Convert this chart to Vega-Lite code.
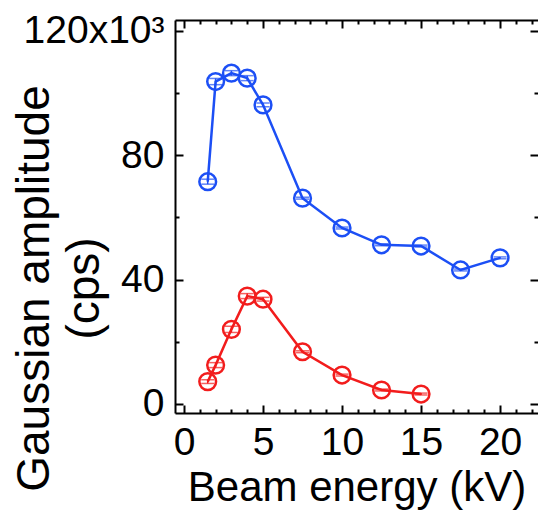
{
  "$schema": "https://vega.github.io/schema/vega-lite/v6.json",
  "autosize": "none",
  "padding": {"left": 175, "top": 20, "right": 0, "bottom": 105},
  "width": 363,
  "height": 393,
  "config": {
    "view": {"stroke": null},
    "font": "Liberation Sans",
    "axis": {
      "domainColor": "black", "domainWidth": 2, "tickColor": "black", "tickWidth": 2,
      "labelFont": "Liberation Sans", "titleFont": "Liberation Sans",
      "labelFontSize": 39, "titleFontSize": 42, "labelColor": "black", "titleColor": "black",
      "titleFontWeight": "normal", "grid": false
    }
  },
  "datasets": {
    "pts": [
      {"s": "blue", "e": 1.5, "a": 71.5, "err": 0.8},
      {"s": "blue", "e": 2, "a": 103.7, "err": 1.0},
      {"s": "blue", "e": 3, "a": 106.4, "err": 0.8},
      {"s": "blue", "e": 4, "a": 104.8, "err": 0.8},
      {"s": "blue", "e": 5, "a": 96.2, "err": 0.6},
      {"s": "blue", "e": 7.5, "a": 66.2, "err": 0.3},
      {"s": "blue", "e": 10, "a": 56.6, "err": 0.3},
      {"s": "blue", "e": 12.5, "a": 51.2, "err": 0.3},
      {"s": "blue", "e": 15, "a": 50.8, "err": 0.3},
      {"s": "blue", "e": 17.5, "a": 43.1, "err": 0.3},
      {"s": "blue", "e": 20, "a": 47.0, "err": 0.3},
      {"s": "red", "e": 1.5, "a": 7.2, "err": 0.6},
      {"s": "red", "e": 2, "a": 12.5, "err": 0.8},
      {"s": "red", "e": 3, "a": 24.0, "err": 1.0},
      {"s": "red", "e": 4, "a": 34.7, "err": 0.8},
      {"s": "red", "e": 5, "a": 33.7, "err": 0.6},
      {"s": "red", "e": 7.5, "a": 16.8, "err": 0.3},
      {"s": "red", "e": 10, "a": 9.3, "err": 0.3},
      {"s": "red", "e": 12.5, "a": 4.5, "err": 0.3},
      {"s": "red", "e": 15, "a": 3.2, "err": 0.3}
    ]
  },
  "data": {"name": "pts"},
  "transform": [
    {"calculate": "datum.a - datum.err", "as": "lo"},
    {"calculate": "datum.a + datum.err", "as": "hi"}
  ],
  "resolve": {"axis": {"x": "independent", "y": "independent"}},
  "layer": [
    {
      "transform": [{"filter": "datum.s == 'blue'"}],
      "mark": {"type": "line", "strokeWidth": 2.5},
      "encoding": {
        "x": {"field": "e", "type": "quantitative",
          "scale": {"domain": [-0.57, 22.4], "nice": false, "zero": false},
          "axis": {"orient": "bottom", "values": [0, 5, 10, 15, 20], "ticks": false, "labelPadding": 10,
            "title": "Beam energy (kV)", "titlePadding": 5}},
        "y": {"field": "a", "type": "quantitative",
          "scale": {"domain": [-2.9, 123.5], "nice": false, "zero": false},
          "axis": {"orient": "left", "values": [0, 40, 80, 120], "ticks": false, "labelPadding": 11,
            "labelExpr": "datum.value == 120 ? '120x10³' : datum.label",
            "title": ["Gaussian amplitude", "(cps)"], "titleLineHeight": 50, "titleFontSize": 46,
            "titleX": -163, "titleY": 268, "titleAngle": -90, "titleAlign": "center", "titleBaseline": "top"}},
        "color": {"field": "s", "type": "nominal", "scale": {"domain": ["blue", "red"], "range": ["#1c4ff5", "#f21c1c"]}, "legend": null}
      }
    },
    {
      "transform": [{"filter": "datum.s == 'red'"}],
      "mark": {"type": "line", "strokeWidth": 2.5},
      "encoding": {
        "x": {"field": "e", "type": "quantitative",
          "scale": {"domain": [-0.57, 22.4], "nice": false, "zero": false},
          "axis": {"orient": "bottom", "values": [0, 5, 10, 15, 20], "offset": -8, "tickSize": 8, "domain": false, "labels": false, "title": null}},
        "y": {"field": "a", "type": "quantitative",
          "scale": {"domain": [-2.9, 123.5], "nice": false, "zero": false},
          "axis": {"orient": "left", "values": [0, 40, 80, 120], "offset": -8, "tickSize": 8, "domain": false, "labels": false, "title": null}},
        "color": {"field": "s", "type": "nominal", "legend": null}
      }
    },
    {
      "mark": {"type": "point", "shape": "circle", "filled": false, "size": 280, "strokeWidth": 2.5, "opacity": 1},
      "encoding": {
        "x": {"field": "e", "type": "quantitative",
          "scale": {"domain": [-0.57, 22.4], "nice": false, "zero": false},
          "axis": {"orient": "bottom", "values": [1, 2, 3, 4, 6, 7, 8, 9, 11, 12, 13, 14, 16, 17, 18, 19, 21, 22], "offset": -4, "tickSize": 4, "domain": false, "labels": false, "title": null}},
        "y": {"field": "a", "type": "quantitative",
          "scale": {"domain": [-2.9, 123.5], "nice": false, "zero": false},
          "axis": {"orient": "left", "values": [20, 60, 100], "offset": -4, "tickSize": 4, "domain": false, "labels": false, "title": null}},
        "color": {"field": "s", "type": "nominal", "legend": null}
      }
    },
    {
      "mark": {"type": "rule", "strokeWidth": 1.5},
      "encoding": {
        "x": {"field": "e", "type": "quantitative",
          "scale": {"domain": [-0.57, 22.4], "nice": false, "zero": false},
          "axis": {"orient": "top", "values": [0, 5, 10, 15, 20], "ticks": false, "labels": false, "title": null}},
        "y": {"field": "lo", "type": "quantitative",
          "scale": {"domain": [-2.9, 123.5], "nice": false, "zero": false}, "axis": null},
        "y2": {"field": "hi"},
        "color": {"field": "s", "type": "nominal", "legend": null}
      }
    },
    {
      "mark": {"type": "tick", "thickness": 1.5, "size": 13, "orient": "horizontal"},
      "encoding": {
        "x": {"field": "e", "type": "quantitative",
          "scale": {"domain": [-0.57, 22.4], "nice": false, "zero": false},
          "axis": {"orient": "top", "values": [0, 5, 10, 15, 20], "offset": -8, "tickSize": 8, "domain": false, "labels": false, "title": null}},
        "y": {"field": "lo", "type": "quantitative",
          "scale": {"domain": [-2.9, 123.5], "nice": false, "zero": false},
          "axis": {"orient": "right", "values": [0, 40, 80, 120], "offset": -8, "tickSize": 8, "domain": false, "labels": false, "title": null}},
        "color": {"field": "s", "type": "nominal", "legend": null}
      }
    },
    {
      "mark": {"type": "tick", "thickness": 1.5, "size": 13, "orient": "horizontal"},
      "encoding": {
        "x": {"field": "e", "type": "quantitative",
          "scale": {"domain": [-0.57, 22.4], "nice": false, "zero": false},
          "axis": {"orient": "top", "values": [1, 2, 3, 4, 6, 7, 8, 9, 11, 12, 13, 14, 16, 17, 18, 19, 21, 22], "offset": -4, "tickSize": 4, "domain": false, "labels": false, "title": null}},
        "y": {"field": "hi", "type": "quantitative",
          "scale": {"domain": [-2.9, 123.5], "nice": false, "zero": false},
          "axis": {"orient": "right", "values": [20, 60, 100], "offset": -4, "tickSize": 4, "domain": false, "labels": false, "title": null}},
        "color": {"field": "s", "type": "nominal", "legend": null}
      }
    }
  ]
}
